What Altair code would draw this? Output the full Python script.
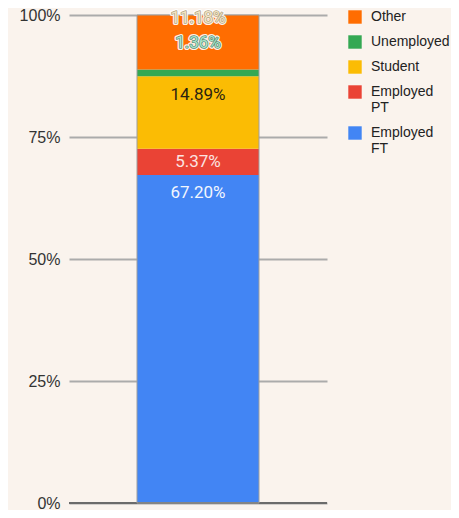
import altair as alt
import pandas as pd

# ---- data ----
categories = ["Employed FT", "Employed PT", "Student", "Unemployed", "Other"]
values = [67.20, 5.37, 14.89, 1.36, 11.18]
labels = ["67.20%", "5.37%", "14.89%", "1.36%", "11.18%"]
y_ticks = [0, 25, 50, 75, 100]

# ---- styles ----
colors = {
    "Employed FT": "#4285f4",
    "Employed PT": "#ea4335",
    "Student": "#fbbc04",
    "Unemployed": "#34a853",
    "Other": "#ff6d01",
}
label_fill = {
    "Employed FT": "#f2f6fe",
    "Employed PT": "#fbe4e1",
    "Student": "#2b2410",
    "Unemployed": "#a9e4cb",
    "Other": "#f3e5c4",
}
label_outline = {
    "Employed FT": "",
    "Employed PT": "",
    "Student": "",
    "Unemployed": "#5b8a74",
    "Other": "#b0a283",
}
# pixel shift of each label below the top of its segment
label_shift_px = {
    "Employed FT": 18,
    "Employed PT": 13,
    "Student": 19,
    "Unemployed": -27,
    "Other": 3,
}

PLOT_W, PLOT_H = 258, 488
BAR_W = 122

df = pd.DataFrame({
    "status": categories,
    "value": values,
    "label": labels,
    "order": list(range(len(categories))),
})
df["group"] = "all"
df["lfill"] = df["status"].map(label_fill)
df["lout"] = df["status"].map(label_outline)
df["halo"] = df["lout"] != ""
df["shift"] = df["status"].map(label_shift_px)

legend_order = categories[::-1]

base = alt.Chart(df).encode(x=alt.X("group:N", axis=None))

y_axis = alt.Axis(
    values=y_ticks,
    labelExpr="datum.value + '%'",
    title=None,
    grid=True,
    domain=False,
    ticks=False,
    labelPadding=9,
    labelFont="Liberation Sans",
    labelFontSize=16,
    labelColor="#333333",
    gridColor="#ababab",
    gridWidth=2,
)

bars = base.mark_bar(size=BAR_W).encode(
    y=alt.Y("value:Q", stack="zero",
            scale=alt.Scale(domain=[0, 100], nice=False), axis=y_axis),
    color=alt.Color(
        "status:N",
        scale=alt.Scale(domain=legend_order,
                        range=[colors[c] for c in legend_order]),
        legend=alt.Legend(
            title=None,
            orient="none",
            legendX=279,
            legendY=-5,
            symbolType="square",
            symbolSize=180,
            symbolStrokeWidth=0,
            labelFont="Liberation Sans",
            labelFontSize=14,
            labelColor="#222222",
            labelOffset=9,
            rowPadding=11,
            padding=0,
            labelLimit=200,
            labelExpr="split(datum.label, ' ')",
        ),
    ),
    order=alt.Order("order:Q"),
)

outline = base.mark_bar(size=BAR_W, fillOpacity=0, stroke="#9e9e9e",
                        strokeWidth=1).encode(y=alt.Y("sum(value):Q"))

baseline = alt.Chart(df).mark_rule(color="#6b6b6b", strokeWidth=2).encode(
    y=alt.datum(0)
)

txt = (
    alt.Chart(df)
    .transform_window(cum="sum(value)", sort=[alt.SortField("order")],
                      frame=[None, 0])
    .transform_calculate(ly=f"datum.cum - datum.shift * 100 / {PLOT_H}")
    .encode(x=alt.X("group:N"), y=alt.Y("ly:Q"), text="label:N")
)
tstyle = dict(font="Roboto", fontSize=17, baseline="middle", align="center")

halo = txt.transform_filter("datum.halo").mark_text(
    fill="white", stroke="white", strokeWidth=4, strokeJoin="round",
    opacity=0.9, **tstyle)
outl = txt.transform_filter("datum.halo").mark_text(
    strokeWidth=1.5, strokeJoin="round", **tstyle).encode(
    stroke=alt.Stroke("lout:N", scale=None),
    fill=alt.Fill("lfill:N", scale=None))
fill = txt.mark_text(**tstyle).encode(fill=alt.Fill("lfill:N", scale=None))

chart = (
    alt.layer(bars, baseline, outline, halo, outl, fill)
    .properties(
        width=PLOT_W,
        height=PLOT_H,
        autosize=alt.AutoSizeParams(type="none"),
        padding={"left": 61, "top": 7, "right": 124, "bottom": 7},
        background="#faf3ed",
    )
    .configure_view(stroke=None)
)

chart.save("out.html", embed_options={"renderer": "svg", "actions": False})
